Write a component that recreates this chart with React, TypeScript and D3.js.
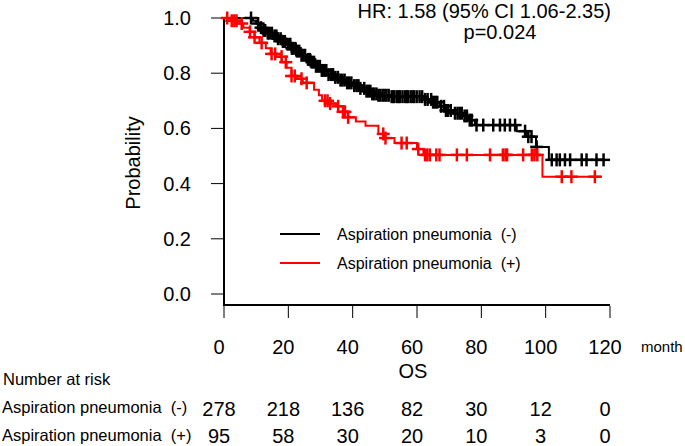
import React from 'react';
import * as d3 from 'd3';

const xTicks = [0, 20, 40, 60, 80, 100, 120];
const yTicks = [0, 0.2, 0.4, 0.6, 0.8, 1.0];

// Aspiration pneumonia (-) : step times and survival after each step
const negTimes = [0, 9, 10, 11, 12, 13.5, 15, 16.5, 18, 19.5, 21, 22.5, 24, 25.5, 27, 28.5, 30, 32, 34, 36, 38, 40, 42, 44, 46, 48, 52, 62, 65, 67, 69, 71, 74, 76, 78, 91, 94, 97, 101];
const negSurv = [1.0, 0.99, 0.98, 0.965, 0.955, 0.945, 0.935, 0.925, 0.915, 0.905, 0.89, 0.88, 0.865, 0.85, 0.84, 0.825, 0.81, 0.795, 0.785, 0.775, 0.765, 0.755, 0.745, 0.735, 0.725, 0.72, 0.715, 0.705, 0.695, 0.68, 0.665, 0.655, 0.645, 0.63, 0.612, 0.59, 0.57, 0.533, 0.486];
const negEnd = 118;
const negCensor = [8.4, 10.6, 11.5, 12.3, 12.8, 13.6, 14.2, 14.9, 15.7, 16.3, 16.8, 17.6, 18.3, 18.9, 19.8, 20.6, 21.1, 21.5, 22.2, 22.7, 23.4, 24.1, 24.6, 25.2, 26.1, 26.7, 27.3, 28.0, 28.6, 29.2, 29.8, 30.4, 31.1, 31.8, 32.5, 33.3, 33.9, 34.6, 35.4, 36.2, 36.8, 37.5, 38.3, 38.9, 39.6, 40.5, 41.2, 41.8, 42.4, 43.6, 44.3, 44.9, 45.5, 46.1, 46.7, 47.4, 48.0, 48.6, 49.3, 49.9, 50.5, 51.2, 52.1, 52.6, 53.0, 53.8, 54.3, 54.7, 55.5, 56.3, 56.8, 57.2, 58.0, 58.6, 59.1, 59.9, 60.8, 61.6, 62.5, 63.3, 64.4, 65.0, 65.6, 66.3, 67.5, 68.4, 69.0, 69.6, 70.5, 71.8, 72.6, 73.3, 73.9, 74.8, 75.5, 76.4, 77.0, 78.5, 80.6, 83.7, 85.8, 87.3, 88.9, 90.5, 93.6, 94.6, 95.6, 97.2, 101.9, 103.4, 104.4, 106, 107.6, 111.2, 112.7, 115.8, 118];

// Aspiration pneumonia (+)
const posTimes = [0, 2, 4, 6, 8, 9.5, 11, 13, 14.5, 16, 18, 19.5, 21, 22.5, 24.5, 28, 29.5, 30.5, 32.5, 35, 37, 38.5, 41, 44, 48, 50, 53, 60, 62, 99];
const posSurv = [1.0, 0.99, 0.98, 0.965, 0.95, 0.93, 0.91, 0.89, 0.87, 0.86, 0.84, 0.82, 0.79, 0.78, 0.765, 0.74, 0.72, 0.70, 0.69, 0.68, 0.66, 0.64, 0.625, 0.61, 0.58, 0.565, 0.547, 0.525, 0.504, 0.425];
const posEnd = 117.5;
const posCensor = [1.0, 2.4, 3.2, 3.9, 5.5, 8.1, 9.5, 11.7, 14.8, 15.9, 17.9, 19.2, 21.0, 22.0, 24.1, 25.7, 31.4, 32.2, 33.0, 35.5, 37.0, 37.6, 38.6, 49.5, 50.2, 55.2, 56.8, 60.4, 62.5, 63.2, 64.0, 66.0, 67.0, 72.4, 75.5, 82.7, 86.7, 87.5, 88.0, 93.0, 95.7, 96.5, 97.4, 105, 108, 115.3];

const riskTimes = [0, 20, 40, 60, 80, 100, 120];
const riskNeg = [278, 218, 136, 82, 30, 12, 0];
const riskPos = [95, 58, 30, 20, 10, 3, 0];

const groupLabels = ['Aspiration pneumonia  (-)', 'Aspiration pneumonia  (+)'];
const colors = ['#000000', '#ff0000'];

const FONT = 'Liberation Sans, Arial, sans-serif';

function survAt(times: number[], surv: number[], t: number) {
  let v = surv[0];
  for (let i = 0; i < times.length; i++) if (times[i] <= t) v = surv[i];
  return v;
}

export default function App() {
  const x = d3.scaleLinear().domain([0, 120]).range([224, 610]);
  const y = d3.scaleLinear().domain([0, 1]).range([294, 18]);
  const line = d3.line<[number, number]>().x(d => x(d[0])).y(d => y(d[1])).curve(d3.curveStepAfter);

  const series = [
    { times: negTimes, surv: negSurv, end: negEnd, censor: negCensor, color: colors[0] },
    { times: posTimes, surv: posSurv, end: posEnd, censor: posCensor, color: colors[1] },
  ];

  const m = 6.5;
  return (
    <svg width={685} height={446} style={{ position: 'absolute', left: 0, top: 0, background: '#fff' }} fontFamily={FONT}>
      {/* axes */}
      <line x1={224} x2={224} y1={y(1)} y2={305} stroke="#000" strokeWidth={2} />
      <line x1={223} x2={x(120)} y1={305} y2={305} stroke="#000" strokeWidth={2} />
      {yTicks.map(t => (
        <g key={'y' + t}>
          <line x1={211} x2={224} y1={y(t)} y2={y(t)} stroke="#000" strokeWidth={1} />
          <text x={191} y={y(t)} dy="0.35em" textAnchor="end" fontSize={20} fill="#000">{t.toFixed(1)}</text>
        </g>
      ))}
      {xTicks.map(t => (
        <g key={'x' + t}>
          <line x1={x(t)} x2={x(t)} y1={306} y2={318} stroke="#000" strokeWidth={1} />
          <text x={x(t) - 5} y={354} textAnchor="middle" fontSize={20} fill="#000">{t}</text>
        </g>
      ))}
      <text x={641} y={352} fontSize={15} fill="#000">month</text>
      <text x={413} y={378} textAnchor="middle" fontSize={20} fill="#000">OS</text>
      <text transform="translate(140,163) rotate(-90)" textAnchor="middle" fontSize={20} fill="#000">Probability</text>

      {/* curves */}
      {series.map((s, i) => {
        const pts: [number, number][] = s.times.map((t, j) => [t, s.surv[j]] as [number, number]);
        pts.push([s.end, s.surv[s.surv.length - 1]]);
        return (
          <g key={'s' + i}>
            <path d={line(pts) || ''} fill="none" stroke={s.color} strokeWidth={2} />
            {s.censor.map((c, k) => {
              const cx = x(c);
              const cy = y(survAt(s.times, s.surv, c));
              return (
                <g key={k} stroke={s.color} strokeWidth={2.5}>
                  <line x1={cx} x2={cx} y1={cy - m} y2={cy + m} />
                  <line x1={cx - m} x2={cx + m} y1={cy} y2={cy} />
                </g>
              );
            })}
          </g>
        );
      })}

      {/* HR text */}
      <text x={611} y={18} textAnchor="end" fontSize={20} fill="#000">HR: 1.58 (95% CI 1.06-2.35)</text>
      <text x={500} y={39} textAnchor="middle" fontSize={20} fill="#000">p=0.024</text>

      {/* legend */}
      {groupLabels.map((g, i) => (
        <g key={'l' + i}>
          <line x1={280} x2={320} y1={234 + i * 29} y2={234 + i * 29} stroke={colors[i]} strokeWidth={2} />
          <text x={337} y={240 + i * 29} fontSize={16} fill="#000" style={{ whiteSpace: 'pre' }}>{g}</text>
        </g>
      ))}

      {/* risk table */}
      <text x={3} y={385} fontSize={16.5} fill="#000">Number at risk</text>
      {[riskNeg, riskPos].map((row, i) => (
        <g key={'r' + i}>
          <text x={2} y={413 + i * 28} fontSize={16.5} fill="#000" style={{ whiteSpace: 'pre' }}>{groupLabels[i]}</text>
          {row.map((v, j) => (
            <text key={j} x={x(riskTimes[j]) - 5} y={416 + i * 27} textAnchor="middle" fontSize={20} fill="#000">{v}</text>
          ))}
        </g>
      ))}
    </svg>
  );
}
